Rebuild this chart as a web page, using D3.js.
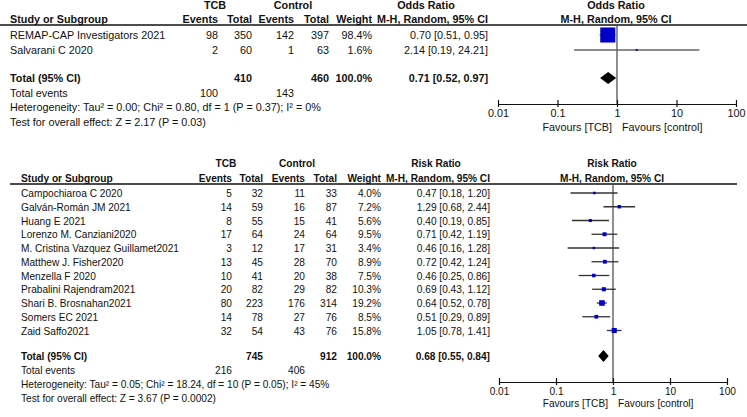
<!DOCTYPE html>
<html><head><meta charset="utf-8">
<script src="https://cdn.jsdelivr.net/npm/d3@7"></script>
<style>
html,body{margin:0;padding:0;background:#fff;}
svg{display:block;font-family:"Liberation Sans",Arial,sans-serif;}
</style></head><body>
<svg id="c" width="747" height="417"></svg>
<script>
// ---------- Panel 1 data (Odds Ratio) ----------
const topStudies = ["REMAP-CAP Investigators 2021", "Salvarani C 2020"];
const topTcbEvents = [98, 2];
const topTcbTotal = [350, 60];
const topCtlEvents = [142, 1];
const topCtlTotal = [397, 63];
const topWeight = [98.4, 1.6];
const topEst = [0.70, 2.14];
const topLo = [0.51, 0.19];
const topHi = [0.95, 24.21];
const topTotalRow = {tcbTotal: 410, ctlTotal: 460, weight: 100.0, est: 0.71, lo: 0.52, hi: 0.97, tcbEvents: 100, ctlEvents: 143};
const topHet = "Heterogeneity: Tau\u00b2 = 0.00; Chi\u00b2 = 0.80, df = 1 (P = 0.37); I\u00b2 = 0%";
const topTest = "Test for overall effect: Z = 2.17 (P = 0.03)";

// ---------- Panel 2 data (Risk Ratio) ----------
const botStudies = ["Campochiaroa C 2020", "Galván-Román JM 2021", "Huang E 2021", "Lorenzo M. Canziani2020",
  "M. Cristina Vazquez Guillamet2021", "Matthew J. Fisher2020", "Menzella F 2020", "Prabalini Rajendram2021",
  "Shari B. Brosnahan2021", "Somers EC 2021", "Zaid Saffo2021"];
const botTcbEvents = [5, 14, 8, 17, 3, 13, 10, 20, 80, 14, 32];
const botTcbTotal = [32, 59, 55, 64, 12, 45, 41, 82, 223, 78, 54];
const botCtlEvents = [11, 16, 15, 24, 17, 28, 20, 29, 176, 27, 43];
const botCtlTotal = [33, 87, 41, 64, 31, 70, 38, 82, 314, 76, 76];
const botWeight = [4.0, 7.2, 5.6, 9.5, 3.4, 8.9, 7.5, 10.3, 19.2, 8.5, 15.8];
const botEst = [0.47, 1.29, 0.40, 0.71, 0.46, 0.72, 0.46, 0.69, 0.64, 0.51, 1.05];
const botLo = [0.18, 0.68, 0.19, 0.42, 0.16, 0.42, 0.25, 0.43, 0.52, 0.29, 0.78];
const botHi = [1.20, 2.44, 0.85, 1.19, 1.28, 1.24, 0.86, 1.12, 0.78, 0.89, 1.41];
const botTotalRow = {tcbTotal: 745, ctlTotal: 912, weight: 100.0, est: 0.68, lo: 0.55, hi: 0.84, tcbEvents: 216, ctlEvents: 406};
const botHet = "Heterogeneity: Tau\u00b2 = 0.05; Chi\u00b2 = 18.24, df = 10 (P = 0.05); I\u00b2 = 45%";
const botTest = "Test for overall effect: Z = 3.67 (P = 0.0002)";

const tickValues = [0.01, 0.1, 1, 10, 100];
const tickLabels = ["0.01", "0.1", "1", "10", "100"];

const svg = d3.select("#c");
const f2 = d => d.toFixed(2);
const ciText = (e, l, h) => `${f2(e)} [${f2(l)}, ${f2(h)}]`;

function panel(cfg) {
  const g = svg.append("g");
  const fs = cfg.fs;
  const txt = (x, y, s, anchor, bold) => g.append("text").attr("x", x).attr("y", y).text(s)
    .attr("text-anchor", anchor || "start").attr("font-size", fs).attr("font-weight", bold ? "bold" : "normal").attr("fill", "#111");
  const c = cfg.cols;
  // headers
  txt(c.tcbHead, cfg.h1, "TCB", "middle", true);
  txt(c.ctlHead, cfg.h1, "Control", "middle", true);
  txt(c.measHead, cfg.h1, cfg.measure, "middle", true);
  txt(cfg.plotHeadX, cfg.h1, cfg.measure, "middle", true);
  txt(c.study, cfg.h2, "Study or Subgroup", "start", true);
  txt(c.tcbE, cfg.h2, "Events", "end", true);
  txt(c.tcbT, cfg.h2, "Total", "end", true);
  txt(c.ctlE, cfg.h2, "Events", "end", true);
  txt(c.ctlT, cfg.h2, "Total", "end", true);
  txt(c.weight, cfg.h2, "Weight", "end", true);
  txt(c.ci, cfg.h2, "M-H, Random, 95% CI", "end", true);
  txt(cfg.plotHeadX, cfg.h2, "M-H, Random, 95% CI", "middle", true);
  g.append("line").attr("x1", cfg.lineX0).attr("x2", cfg.lineX1).attr("y1", cfg.lineY).attr("y2", cfg.lineY)
    .attr("stroke", "#111").attr("stroke-width", 1.3);

  const x = d3.scaleLog().domain([0.01, 100]).range(cfg.xRange);
  const rowY = i => cfg.row0 + i * cfg.rowStep;
  // study rows
  cfg.studies.forEach((s, i) => {
    const y = rowY(i);
    txt(c.study, y, s);
    txt(c.tcbE, y, cfg.tcbE[i], "end");
    txt(c.tcbT, y, cfg.tcbT[i], "end");
    txt(c.ctlE, y, cfg.ctlE[i], "end");
    txt(c.ctlT, y, cfg.ctlT[i], "end");
    txt(c.weight, y, cfg.weight[i].toFixed(1) + "%", "end");
    txt(c.ci, y, ciText(cfg.est[i], cfg.lo[i], cfg.hi[i]), "end");
  });
  // total
  const T = cfg.total;
  const ty = cfg.totalY;
  txt(c.study, ty, "Total (95% CI)", "start", true);
  txt(c.tcbT, ty, T.tcbTotal, "end", true);
  txt(c.ctlT, ty, T.ctlTotal, "end", true);
  txt(c.weight, ty, T.weight.toFixed(1) + "%", "end", true);
  txt(c.ci, ty, ciText(T.est, T.lo, T.hi), "end", true);
  txt(c.study, ty + cfg.footStep, "Total events");
  txt(c.tcbE, ty + cfg.footStep, T.tcbEvents, "end");
  txt(c.ctlE, ty + cfg.footStep, T.ctlEvents, "end");
  txt(c.study, ty + 2 * cfg.footStep, cfg.het);
  txt(c.study, ty + 3 * cfg.footStep, cfg.test);

  // vertical line at 1
  g.append("line").attr("x1", x(1)).attr("x2", x(1)).attr("y1", cfg.lineY).attr("y2", cfg.axisY)
    .attr("stroke", "#444").attr("stroke-width", 1.2);
  // CI lines + squares
  const sz = d3.scaleSqrt().domain([0, 100]).range([0, cfg.sqMax]);
  cfg.studies.forEach((s, i) => {
    const cy = rowY(i) - cfg.markOff;
    g.append("line").attr("x1", x(cfg.lo[i])).attr("x2", x(cfg.hi[i])).attr("y1", cy).attr("y2", cy)
      .attr("stroke", cfg.ciColor).attr("stroke-width", 1.3);
    const w = Math.max(1.6, sz(cfg.weight[i]));
    g.append("rect").attr("x", x(cfg.est[i]) - w / 2).attr("y", cy - w / 2).attr("width", w).attr("height", w)
      .attr("fill", "#0000c8");
  });
  // diamond
  const dy = ty - cfg.markOff, dh = 6;
  g.append("path").attr("d", `M${x(T.lo)},${dy}L${x(T.est)},${dy - dh}L${x(T.hi)},${dy}L${x(T.est)},${dy + dh}Z`).attr("fill", "#000");

  // axis
  const ax = g.append("g").attr("transform", `translate(0,${cfg.axisY})`)
    .call(d3.axisBottom(x).tickValues(tickValues).tickFormat((d, i) => tickLabels[i]).tickSizeOuter(0).tickSizeInner(3).tickPadding(2));
  ax.select(".domain").attr("stroke", "#111").attr("stroke-width", 1.2);
  ax.selectAll(".tick line").attr("y1", -4).attr("stroke", "#111").attr("stroke-width", 1.2);
  ax.selectAll(".tick text").attr("font-size", fs).attr("fill", "#111").attr("font-family", '"Liberation Sans",Arial,sans-serif')
    .attr("dy", null).attr("y", 13);
  txt(x(1) - 5, cfg.axisY + cfg.favOff, "Favours [TCB]", "end");
  txt(x(1) + 5, cfg.axisY + cfg.favOff, "Favours [control]", "start");
}

panel({
  fs: 10.8, measure: "Odds Ratio",
  cols: {study: 10, tcbE: 218, tcbT: 252, ctlE: 294, ctlT: 329, weight: 372, ci: 488, tcbHead: 215, ctlHead: 293, measHead: 426},
  plotHeadX: 616, h1: 9, h2: 23, lineX0: 0, lineX1: 747, lineY: 25,
  row0: 39, rowStep: 15, totalY: 82, footStep: 14.7, markOff: 4,
  studies: topStudies, tcbE: topTcbEvents, tcbT: topTcbTotal, ctlE: topCtlEvents, ctlT: topCtlTotal,
  weight: topWeight, est: topEst, lo: topLo, hi: topHi, total: topTotalRow, het: topHet, test: topTest,
  xRange: [498, 736], axisY: 104, favOff: 27, sqMax: 15.2, ciColor: "#666"
});

panel({
  fs: 10.15, measure: "Risk Ratio",
  cols: {study: 21, tcbE: 232, tcbT: 263, ctlE: 305, ctlT: 337, weight: 381, ci: 490, tcbHead: 226, ctlHead: 297, measHead: 436},
  plotHeadX: 612, h1: 167, h2: 182, lineX0: 10, lineX1: 737, lineY: 184,
  row0: 197, rowStep: 13.75, totalY: 360, footStep: 14, markOff: 4,
  studies: botStudies, tcbE: botTcbEvents, tcbT: botTcbTotal, ctlE: botCtlEvents, ctlT: botCtlTotal,
  weight: botWeight, est: botEst, lo: botLo, hi: botHi, total: botTotalRow, het: botHet, test: botTest,
  xRange: [499, 727], axisY: 382, favOff: 25, sqMax: 12.8, ciColor: "#333"
});
</script>
</body></html>
